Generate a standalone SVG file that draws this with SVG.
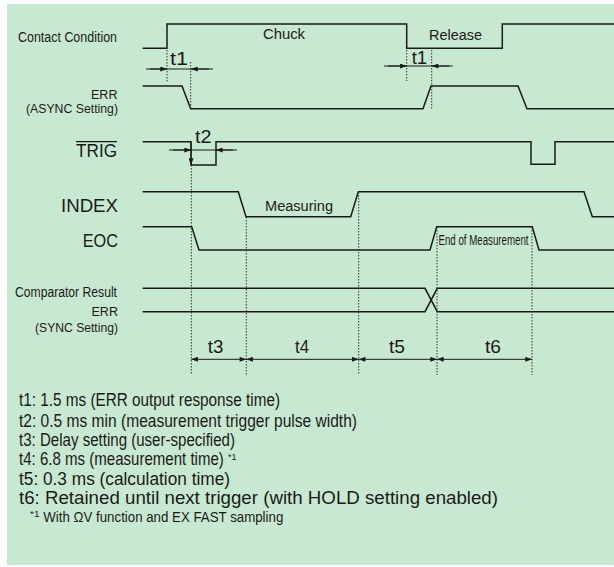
<svg xmlns="http://www.w3.org/2000/svg" width="614" height="567" viewBox="0 0 614 567">
<defs>
<style>
.bg{fill:#c8e9d1}
.w{fill:none;stroke:#1a1a1a;stroke-width:1.5;stroke-linejoin:miter}
.dot{fill:none;stroke:#333;stroke-width:1;stroke-dasharray:1.5 1.5}
.dim{fill:none;stroke:#1a1a1a;stroke-width:1}
.ar{fill:none;stroke:#1a1a1a;stroke-width:1;marker-end:url(#ah)}
.dd{fill:none;stroke:#1a1a1a;stroke-width:1;marker-start:url(#ah);marker-end:url(#ah)}
text{font-family:"Liberation Sans",Arial,sans-serif;fill:#1a1a1a}
.lb{font-size:15.5px}
.sm{font-size:14px}
.xs{font-size:12.5px}
.big{font-size:18px}
.ft{font-size:17.5px}
.fn{font-size:14px}
.sup{font-size:9px}
</style>
<marker id="ah" viewBox="0 0 8 6" refX="8" refY="3" markerWidth="7" markerHeight="5" markerUnits="userSpaceOnUse" orient="auto-start-reverse">
<path d="M0,0 L8,3 L0,6 z" fill="#1a1a1a"/>
</marker>
</defs>
<rect class="bg" x="7" y="4" width="607" height="561"/>

<g id="contact-condition">
<text class="lb" x="18" y="42" textLength="99" lengthAdjust="spacingAndGlyphs">Contact Condition</text>
<path class="w" d="M142.7,48.3 H167 V24 H406.7 V48.3 H502.3 V24 H614"/>
<text class="lb" x="263" y="39" textLength="42" lengthAdjust="spacingAndGlyphs">Chuck</text>
<text class="lb" x="429" y="40" textLength="53" lengthAdjust="spacingAndGlyphs">Release</text>
</g>

<g id="err-async">
<text class="xs" x="91" y="99" textLength="26.5" lengthAdjust="spacingAndGlyphs">ERR</text>
<text class="xs" x="26" y="113" textLength="92" lengthAdjust="spacingAndGlyphs">(ASYNC Setting)</text>
<path class="w" d="M142.7,86 H182 L190.7,108.7 H423 L431,86 H518 L527,108.7 H614"/>
</g>

<g id="trig">
<text class="big" x="76" y="156.7" textLength="41" lengthAdjust="spacingAndGlyphs">TRIG</text>
<line x1="76" y1="141.7" x2="117" y2="141.7" stroke="#1a1a1a" stroke-width="1.2"/>
<path class="w" d="M142.7,141.7 H191 V165 H216 V141.7 H531 V164.3 H555 V141.7 H614"/>
</g>

<g id="index">
<text class="big" x="61" y="211.7" textLength="57" lengthAdjust="spacingAndGlyphs">INDEX</text>
<path class="w" d="M142.7,191.7 H238.3 L246,216.7 H350.7 L358.3,191.7 H584 L592.3,216.7 H614"/>
<text class="lb" x="265" y="211" textLength="68" lengthAdjust="spacingAndGlyphs">Measuring</text>
</g>

<g id="eoc">
<text class="big" x="82.7" y="246.7" textLength="35.3" lengthAdjust="spacingAndGlyphs">EOC</text>
<path class="w" d="M142.7,226.7 H191.7 L199,250 H430 L436.7,226.7 H532.3 L539,250 H614"/>
<text class="sm" x="438.5" y="245" textLength="90" lengthAdjust="spacingAndGlyphs">End of Measurement</text>
</g>

<g id="comparator-err-sync">
<text class="sm" x="15" y="296.7" textLength="102" lengthAdjust="spacingAndGlyphs">Comparator Result</text>
<text class="xs" x="91.5" y="315.7" textLength="26.5" lengthAdjust="spacingAndGlyphs">ERR</text>
<text class="xs" x="35" y="332.3" textLength="83" lengthAdjust="spacingAndGlyphs">(SYNC Setting)</text>
<path class="w" d="M142.7,288.3 H425 L437.3,311.7 H614"/>
<path class="w" d="M142.7,311.7 H425 L437.3,288.3 H614"/>
</g>

<g id="connectors">
<line class="dot" x1="167" y1="50" x2="167" y2="83"/>
<line class="dot" x1="190.7" y1="62" x2="190.7" y2="108"/>
<line class="dot" x1="406.7" y1="50" x2="406.7" y2="81"/>
<line class="dot" x1="431.7" y1="50" x2="431.7" y2="110"/>
<line class="dot" x1="191.3" y1="165" x2="191.3" y2="375"/>
<line class="dot" x1="246.3" y1="217" x2="246.3" y2="375"/>
<line class="dot" x1="358.7" y1="192" x2="358.7" y2="375"/>
<line class="dot" x1="437" y1="227" x2="437" y2="375"/>
<line class="dot" x1="532" y1="227" x2="532" y2="375"/>

<line class="dim" x1="146" y1="69" x2="213" y2="69"/>
<line class="ar" x1="150" y1="69" x2="167" y2="69"/>
<line class="ar" x1="209" y1="69" x2="191" y2="69"/>
<text class="big" x="170" y="65" textLength="18" lengthAdjust="spacingAndGlyphs">t1</text>

<line class="dim" x1="384" y1="66" x2="452.7" y2="66"/>
<line class="ar" x1="388" y1="66" x2="406.7" y2="66"/>
<line class="ar" x1="449" y1="66" x2="431.7" y2="66"/>
<text class="big" x="411.7" y="64" textLength="15.5" lengthAdjust="spacingAndGlyphs">t1</text>

<line class="dim" x1="169" y1="150" x2="237" y2="150"/>
<line class="ar" x1="173" y1="150" x2="191" y2="150"/>
<line class="ar" x1="233" y1="150" x2="216" y2="150"/>
<line class="ar" x1="191" y1="142" x2="191" y2="165"/>
<text class="big" x="195" y="143.3" textLength="16.5" lengthAdjust="spacingAndGlyphs">t2</text>

<line class="dd" x1="191.3" y1="359.3" x2="246.3" y2="359.3"/>
<line class="dd" x1="246.3" y1="359.3" x2="358.7" y2="359.3"/>
<line class="dd" x1="358.7" y1="359.3" x2="437" y2="359.3"/>
<line class="dd" x1="437" y1="359.3" x2="532" y2="359.3"/>
<text class="big" x="207.7" y="352.7" textLength="15.6" lengthAdjust="spacingAndGlyphs">t3</text>
<text class="big" x="295" y="352.7" textLength="14" lengthAdjust="spacingAndGlyphs">t4</text>
<text class="big" x="389" y="352.7" textLength="16" lengthAdjust="spacingAndGlyphs">t5</text>
<text class="big" x="485" y="352.7" textLength="16" lengthAdjust="spacingAndGlyphs">t6</text>
</g>

<g id="legend">
<text class="ft" x="19" y="406" textLength="261" lengthAdjust="spacingAndGlyphs">t1: 1.5 ms (ERR output response time)</text>
<text class="ft" x="19" y="426.7" textLength="338" lengthAdjust="spacingAndGlyphs">t2: 0.5 ms min (measurement trigger pulse width)</text>
<text class="ft" x="19" y="445.7" textLength="216" lengthAdjust="spacingAndGlyphs">t3: Delay setting (user-specified)</text>
<text class="ft" transform="translate(19,465) scale(0.86,1)" x="0" y="0">t4: 6.8 ms (measurement time)</text>
<text class="sup" x="228" y="460" textLength="8.5" lengthAdjust="spacingAndGlyphs">*1</text>
<text class="ft" x="19" y="485" textLength="211" lengthAdjust="spacingAndGlyphs">t5: 0.3 ms (calculation time)</text>
<text class="ft" x="19" y="504" textLength="479" lengthAdjust="spacingAndGlyphs">t6: Retained until next trigger (with HOLD setting enabled)</text>
<text class="sup" x="30" y="517" textLength="9.5" lengthAdjust="spacingAndGlyphs">*1</text>
<text class="fn" x="43.3" y="521.7" textLength="240" lengthAdjust="spacingAndGlyphs">With ΩV function and EX FAST sampling</text>
</g>
</svg>
